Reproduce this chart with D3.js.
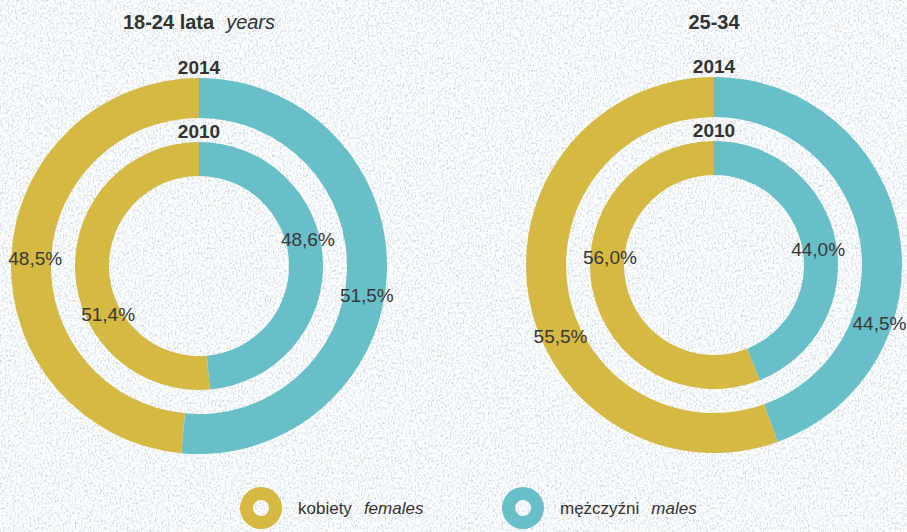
<!DOCTYPE html>
<html>
<head>
<meta charset="utf-8">
<script src="https://cdn.jsdelivr.net/npm/d3@7"></script>
<style>
  html, body { margin: 0; padding: 0; background: #e2e8eb; }
  svg { display: block; font-family: "Liberation Sans", Arial, sans-serif; }
</style>
</head>
<body>
<svg id="chart" width="907" height="532"></svg>
<script>
// data
const groups = ['18-24', '25-34'];
const years = ['2014', '2010'];            // outer ring, inner ring
const series = ['mężczyźni', 'kobiety'];   // drawn clockwise from 12 o'clock
const males = { '18-24': [51.5, 48.6], '25-34': [44.5, 44.0] };
const females = { '18-24': [48.5, 51.4], '25-34': [55.5, 56.0] };

// layout
const W = 907, H = 532;
const colors = { 'kobiety': '#d5b943', 'mężczyźni': '#69bfc8' };
const centers = { '18-24': [199, 266], '25-34': [714, 265] };
const rings = [
  { inner: 148, outer: 188 },   // 2014
  { inner: 90, outer: 124 }     // 2010
];
// hand placed nudges of the percent labels (dx, dy from arc centroid)
const nudge = {
  '18-24': [[[0, 22], [4, 0]], [[2, -22], [16, 44]]],
  '25-34': [[[0, 87], [12, 43]], [[-1, 5], [1, -28]]]
};

const svg = d3.select('#chart');

// paper texture background
const defs = svg.append('defs');
const f = defs.append('filter').attr('id', 'paper')
  .attr('x', 0).attr('y', 0).attr('width', '100%').attr('height', '100%');
f.append('feTurbulence').attr('type', 'fractalNoise')
  .attr('baseFrequency', '0.6 0.4').attr('numOctaves', 3).attr('seed', 4);
f.append('feColorMatrix').attr('type', 'matrix')
  .attr('values', '0.8 0 0 0 0.51  0.8 0 0 0 0.54  0.8 0 0 0 0.56  0 0 0 0 1');
svg.append('rect').attr('width', W).attr('height', H).attr('filter', 'url(#paper)');

const pie = d3.pie().sort(null).value(d => d.value);
const fmt = v => d3.format('.1f')(v).replace('.', ',') + '%';

groups.forEach(g => {
  const [cx, cy] = centers[g];
  const chart = svg.append('g').attr('transform', `translate(${cx},${cy})`);

  years.forEach((yr, i) => {
    const ring = rings[i];
    const arc = d3.arc().innerRadius(ring.inner).outerRadius(ring.outer);
    const slices = pie([
      { key: 'mężczyźni', value: males[g][i] },
      { key: 'kobiety', value: females[g][i] }
    ]);

    chart.selectAll(null).data(slices).enter().append('path')
      .attr('d', arc)
      .attr('fill', d => colors[d.data.key]);

    chart.selectAll(null).data(slices).enter().append('text')
      .attr('x', (d, j) => arc.centroid(d)[0] + nudge[g][i][j][0])
      .attr('y', (d, j) => arc.centroid(d)[1] + nudge[g][i][j][1])
      .attr('text-anchor', 'middle')
      .attr('dominant-baseline', 'central')
      .style('font-size', '19px')
      .style('fill', '#383838')
      .text(d => fmt(d.data.value));

    chart.append('text')
      .attr('x', 0)
      .attr('y', -ring.outer - 4)
      .attr('text-anchor', 'middle')
      .style('font-size', '19px')
      .style('font-weight', 'bold')
      .style('fill', '#333')
      .text(yr);
  });

  const title = svg.append('text')
    .attr('x', cx).attr('y', 29)
    .attr('text-anchor', 'middle')
    .style('font-size', '20px')
    .style('fill', '#333');
  if (g === '18-24') {
    title.append('tspan').style('font-weight', 'bold').text(g + ' lata');
    title.append('tspan').attr('dx', 12).style('font-style', 'italic').text('years');
  } else {
    title.append('tspan').style('font-weight', 'bold').text(g);
  }
});

// legend
const legend = [
  { key: 'kobiety', pl: 'kobiety', en: 'females', x: 261 },
  { key: 'mężczyźni', pl: 'mężczyźni', en: 'males', x: 523 }
];
const iconArc = d3.arc().innerRadius(8).outerRadius(21).startAngle(0).endAngle(2 * Math.PI);
legend.forEach(l => {
  const item = svg.append('g').attr('transform', `translate(${l.x},508)`);
  item.append('path').attr('d', iconArc).attr('fill', colors[l.key]);
  const t = item.append('text')
    .attr('x', 37).attr('y', 6)
    .style('font-size', '17px')
    .style('fill', '#333');
  t.append('tspan').text(l.pl);
  t.append('tspan').attr('dx', 12).style('font-style', 'italic').text(l.en);
});
</script>
</body>
</html>
